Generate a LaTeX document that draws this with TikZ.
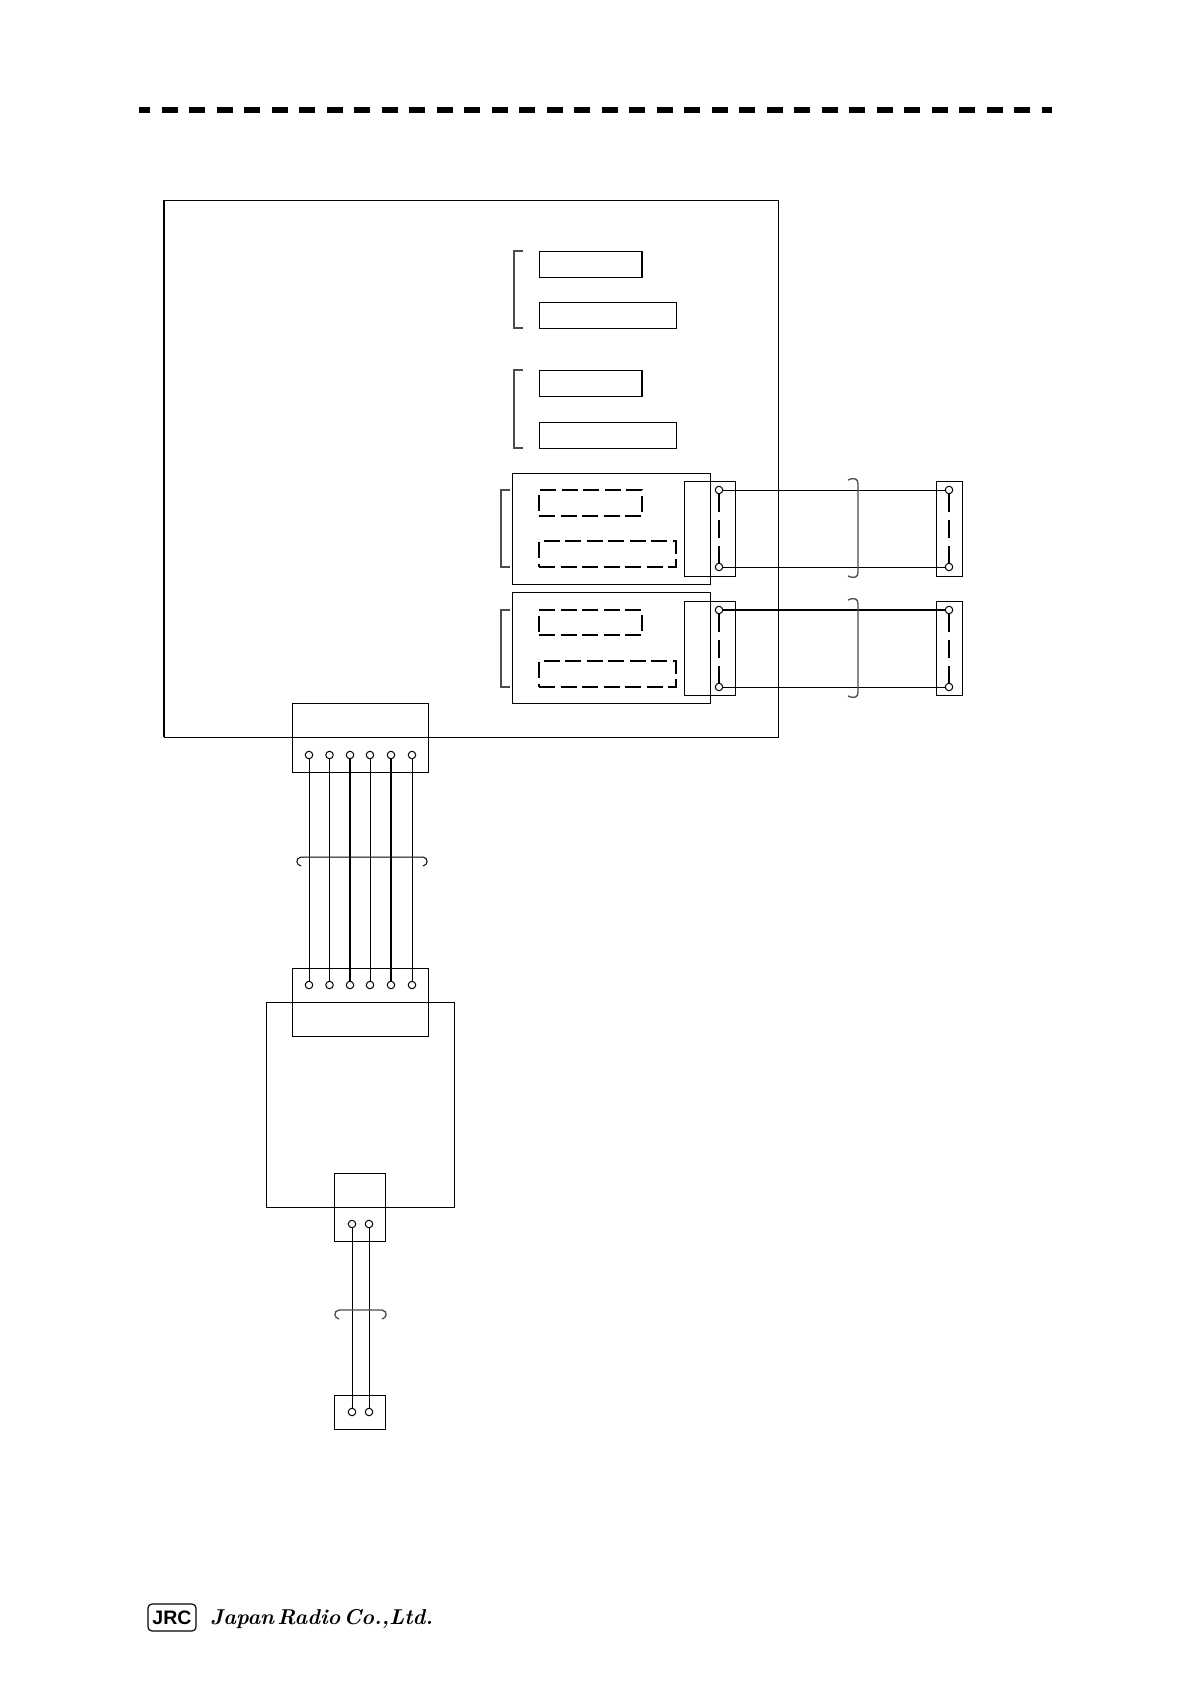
\documentclass[tikz,border=0pt]{standalone}
\usepackage{fontspec}
\setsansfont{Liberation Sans}

\tikzset{
  wire/.style = {line width = 1pt},
  heavywire/.style = {line width = 2.2pt},
  box/.style = {draw = black, line width = 1pt, inner sep = 0pt, outer sep = 0pt},
  dashbox/.style = {draw = black, line width = 2.2pt, inner sep = 0pt, outer sep = 0pt, dash pattern = on 16pt off 5.5pt},
  pin/.style = {draw = black, shape = circle, line width = 1pt, minimum size = 7.5pt, inner sep = 0pt, outer sep = 0pt},
  link/.style = {line width = 2.2pt, dash pattern = on 18pt off 8pt},
  clamp/.style = {draw = black!70, line width = 1.3pt}
}

\begin{document}
\begin{tikzpicture}[x = 1pt, y = -1pt]
\useasboundingbox (0, 0) rectangle (1190, 1684);

% header rule
\coordinate (rule0) at (139, 110);
\coordinate (rule1) at (1052, 110);
\path [draw, line width = 6pt, dash pattern = on 16pt off 11.5pt, dash phase = 5pt] (rule0) -- (rule1);

% main unit
\node [box, minimum width = 614pt, minimum height = 537pt] (main) at (471, 468.5) {};
\path [draw, line width = 2.2pt] (main.north west) -- (main.south west);

\node [box, minimum width = 103pt, minimum height = 26pt] (slot0) at (590.5, 264) {};
\path [draw, line width = 2pt] (slot0.north east) -- (slot0.south east);
\node [box, minimum width = 137pt, minimum height = 26pt] (slot1) at (607.5, 315) {};
\node [box, minimum width = 103pt, minimum height = 26pt] (slot2) at (590.5, 383) {};
\path [draw, line width = 2pt] (slot2.north east) -- (slot2.south east);
\node [box, minimum width = 137pt, minimum height = 26pt] (slot3) at (607.5, 435) {};
\path [draw, clamp] (523, 251) -- (514, 251) -- (514, 328) -- (523, 328);
\path [draw, clamp] (523, 370) -- (514, 370) -- (514, 448) -- (523, 448);

% option boards
\node [box, minimum width = 198pt, minimum height = 111pt] (board0) at (611, 528.5) {};
\node [dashbox, minimum width = 103pt, minimum height = 26pt] (slot4) at (590.5, 503) {};
\node [dashbox, minimum width = 137pt, minimum height = 26pt] (slot5) at (607.5, 554) {};
\path [draw, clamp] (510, 490) -- (501, 490) -- (501, 567) -- (510, 567);

\node [box, minimum width = 198pt, minimum height = 111pt] (board1) at (611, 647.5) {};
\node [dashbox, minimum width = 103pt, minimum height = 25pt] (slot6) at (590.5, 622.5) {};
\node [dashbox, minimum width = 137pt, minimum height = 26pt] (slot7) at (607.5, 674) {};
\path [draw, clamp] (510, 610) -- (501, 610) -- (501, 687) -- (510, 687);

% board connectors
\node [box, minimum width = 51.5pt, minimum height = 95pt] (conn0) at (709.8, 528.5) {};
\node [box, minimum width = 26pt, minimum height = 95pt] (conn1) at (949, 528.5) {};
\node [box, minimum width = 51.5pt, minimum height = 94pt] (conn2) at (709.8, 648) {};
\node [box, minimum width = 26pt, minimum height = 94pt] (conn3) at (949, 648) {};

\node [pin] (p0) at (719, 490) {};
\node [pin] (p1) at (719, 567) {};
\node [pin] (q0) at (949, 490) {};
\node [pin] (q1) at (949, 567) {};
\node [pin] (p2) at (719, 610) {};
\node [pin] (p3) at (719, 687) {};
\node [pin] (q2) at (949, 610) {};
\node [pin] (q3) at (949, 687) {};

\path [draw, wire] (p0) -- (q0);
\path [draw, wire] (p1) -- (q1);
\path [draw, heavywire] (p2) -- (q2);
\path [draw, wire] (p3) -- (q3);
\path [draw, link] (p0) -- (p1);
\path [draw, link] (q0) -- (q1);
\path [draw, link] (p2) -- (p3);
\path [draw, link] (q2) -- (q3);

\path [draw, clamp] (848, 480) .. controls (855, 477) and (858, 479) .. (858, 484) -- (858, 572) .. controls (858, 577) and (855, 579) .. (848, 576);
\path [draw, clamp] (848, 600) .. controls (855, 597) and (858, 599) .. (858, 604) -- (858, 692) .. controls (858, 697) and (855, 699) .. (848, 696);

% bottom of main unit
\node [box, minimum width = 136pt, minimum height = 69pt] (conn4) at (360, 737.5) {};
\node [box, minimum width = 136pt, minimum height = 68pt] (conn5) at (360, 1002.5) {};

\node [pin] (a0) at (309, 755) {};
\node [pin] (a1) at (329.5, 755) {};
\node [pin] (a2) at (350, 755) {};
\node [pin] (a3) at (370, 755) {};
\node [pin] (a4) at (391, 755) {};
\node [pin] (a5) at (412, 755) {};
\node [pin] (b0) at (309, 985) {};
\node [pin] (b1) at (329.5, 985) {};
\node [pin] (b2) at (350, 985) {};
\node [pin] (b3) at (370, 985) {};
\node [pin] (b4) at (391, 985) {};
\node [pin] (b5) at (412, 985) {};

\path [draw, wire] (a0) -- (b0);
\path [draw, wire] (a1) -- (b1);
\path [draw, heavywire] (a2) -- (b2);
\path [draw, wire] (a3) -- (b3);
\path [draw, heavywire] (a4) -- (b4);
\path [draw, wire] (a5) -- (b5);

\path [draw, line width = 1pt] (301, 866) .. controls (296, 865) and (295, 858) .. (301, 857) -- (423, 857) .. controls (429, 858) and (428, 865) .. (423, 866);

% lower unit
\node [box, minimum width = 188pt, minimum height = 205pt] (lower) at (360, 1104.5) {};
\node [box, minimum width = 51.5pt, minimum height = 68pt] (conn6) at (359.8, 1207) {};
\node [box, minimum width = 51.5pt, minimum height = 34pt] (conn7) at (359.8, 1412) {};

\node [pin] (c0) at (352, 1224) {};
\node [pin] (c1) at (369, 1224) {};
\node [pin] (d0) at (352, 1412) {};
\node [pin] (d1) at (369, 1412) {};

\path [draw, wire] (c0) -- (d0);
\path [draw, wire] (c1) -- (d1);

\path [draw, clamp] (339, 1319) .. controls (334, 1318) and (333, 1311) .. (339, 1310) -- (382, 1310) .. controls (388, 1311) and (387, 1318) .. (382, 1319);

% logo
\node [box, line width = 1.2pt, rounded corners = 4pt, minimum width = 48pt, minimum height = 27pt, font = \fontsize{19.5}{20}\selectfont\sffamily\bfseries] (jrc) at (172, 1617.5) {JRC};
\node [inner sep = 0pt, anchor = west, font = \fontsize{21.5}{28}\selectfont\itshape\bfseries\addfontfeatures{FakeStretch = 0.76, FakeBold = 1}] (maker) at (210, 1619) {\spaceskip .15em plus 0pt\relax Japan Radio Co.,Ltd.};

\end{tikzpicture}
\end{document}
